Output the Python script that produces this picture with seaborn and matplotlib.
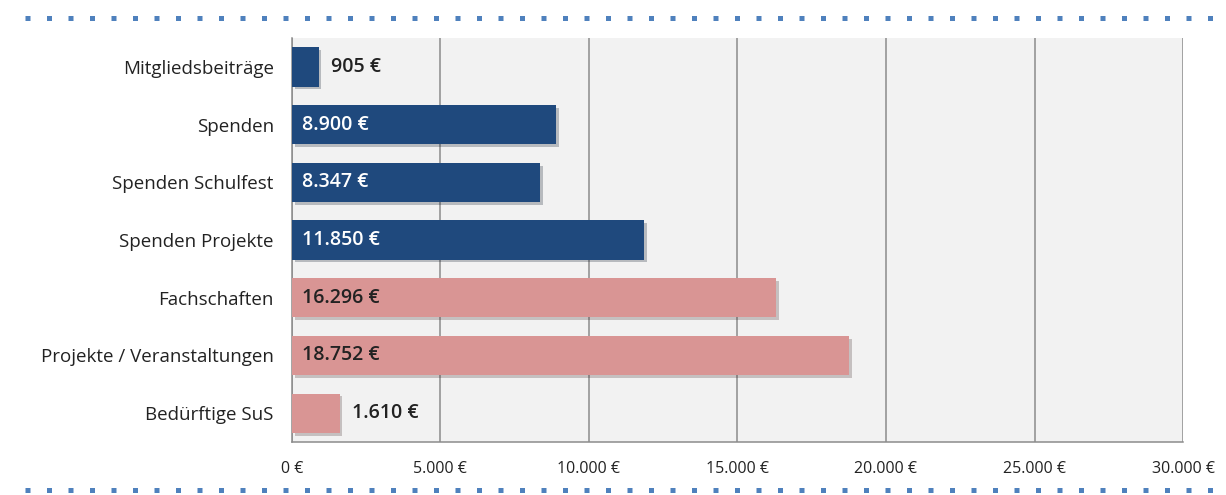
import matplotlib
matplotlib.use("Agg")
import matplotlib.pyplot as plt
import matplotlib.patheffects as pe
from matplotlib.lines import Line2D
import seaborn as sns

# data
categories = ['Mitgliedsbeiträge', 'Spenden', 'Spenden Schulfest', 'Spenden Projekte',
              'Fachschaften', 'Projekte / Veranstaltungen', 'Bedürftige SuS']
values = [905, 8900, 8347, 11850, 16296, 18752, 1610]
groups = ['Einnahmen'] * 4 + ['Ausgaben'] * 3
x_ticks = [0, 5000, 10000, 15000, 20000, 25000, 30000]

blue = '#1f497d'
pink = '#d99594'
colors = [blue if g == 'Einnahmen' else pink for g in groups]

sns.set_style('white')
plt.rcParams['font.family'] = ['Open Sans', 'DejaVu Sans']


def euro(v):
    return f"{v:,}".replace(",", ".") + " €"


fig = plt.figure(figsize=(12.26, 4.95), dpi=100)
ax = fig.add_axes([0.238, 0.107, 0.727, 0.816])
ax.set_facecolor('#f2f2f2')

sns.barplot(x=values, y=categories, hue=categories, palette=colors, legend=False,
            orient='h', width=0.68, saturation=1, ax=ax, zorder=3,
            edgecolor='none', linewidth=0)

for p in ax.patches:
    p.set_path_effects([pe.SimplePatchShadow(offset=(2, -2), alpha=0.25), pe.Normal()])

# value labels: inside for long bars, next to the bar for short ones
for i, v in enumerate(values):
    if v > 3000:
        ax.text(350, i, euro(v), va='center', ha='left', fontsize=14, fontweight='semibold',
                color='white' if groups[i] == 'Einnahmen' else '#222222', zorder=4)
    else:
        ax.text(v + 400, i, euro(v), va='center', ha='left', fontsize=14,
                fontweight='semibold', color='#222222', zorder=4)

ax.set_xlim(0, 30000)
ax.set_ylim(len(categories) - 0.5, -0.5)
ax.set_xticks(x_ticks)
ax.set_xticklabels([euro(t) for t in x_ticks], fontsize=11.5, color='#222222')
ax.set_yticks(range(len(categories)))
ax.set_yticklabels(categories, fontsize=13.5, color='#222222')
ax.tick_params(axis='y', length=0, pad=13)
# category boundary ticks on the y axis
ax.set_yticks([i - 0.5 for i in range(len(categories) + 1)], minor=True)
ax.tick_params(axis='y', which='minor', length=5, color='#888888', direction='out')
ax.tick_params(axis='x', length=5, color='#888888', direction='out', pad=9)
ax.set_xlabel('')
ax.set_ylabel('')

ax.grid(axis='x', color='#8c8c8c', linewidth=1.1, zorder=0)
ax.set_axisbelow(True)
for s in ['top', 'right']:
    ax.spines[s].set_visible(False)
for s in ['left', 'bottom']:
    ax.spines[s].set_color('#8c8c8c')
    ax.spines[s].set_linewidth(1.1)

# dotted frame lines top and bottom
for yy in [0.964, 0.010]:
    fig.add_artist(Line2D([0.02, 1.0], [yy, yy], transform=fig.transFigure, color='#4f81bd',
                          linewidth=3.6, linestyle=(0, (1, 3.3)), dash_capstyle='butt'))

fig.savefig('out.png', dpi=100)
